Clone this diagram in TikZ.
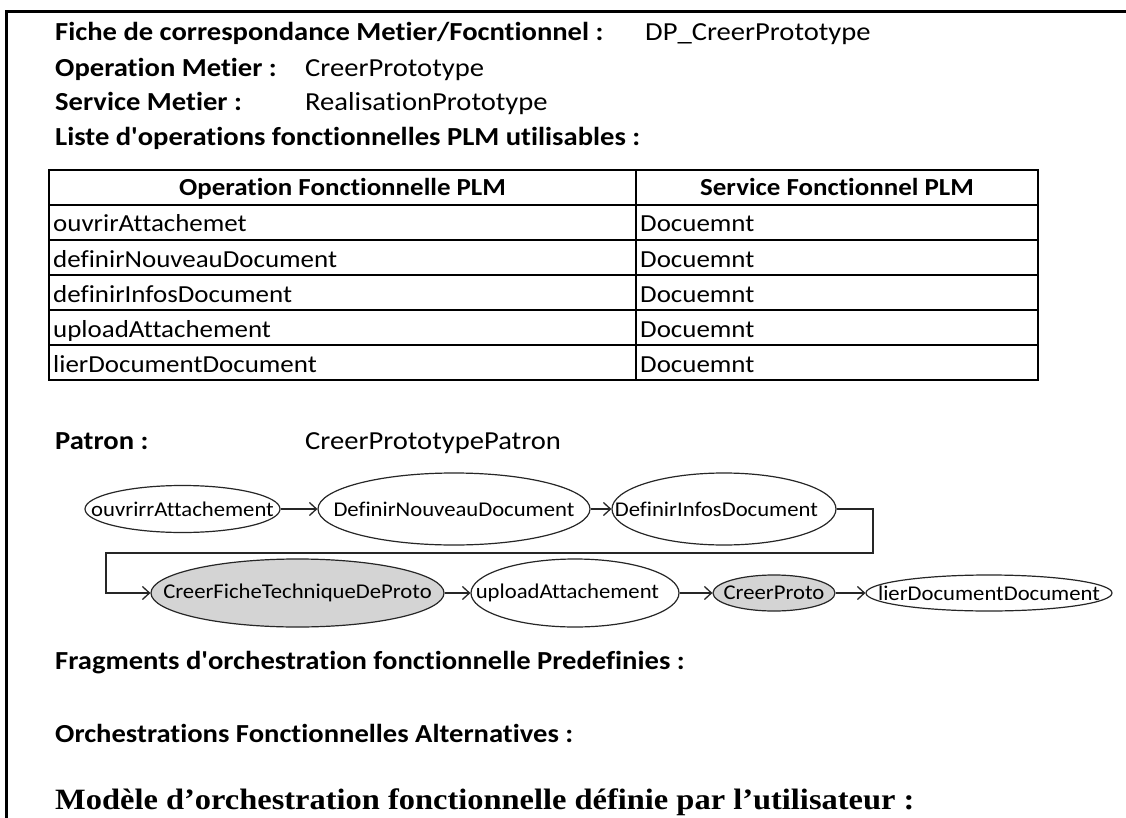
\documentclass[tikz,border=0pt]{standalone}
\usepackage{fontspec}
\usepackage{graphicx}
\setmainfont{Carlito}[Ligatures=NoCommon]
\newfontfamily\timesfont{Liberation Serif}
\usetikzlibrary{shapes.geometric,arrows.meta}
\newcommand{\hx}[1]{\scalebox{1.1}[1]{#1}}
\newcommand{\ex}[1]{\makebox[0pt]{\scalebox{1.08}[1]{#1}}}
\newcommand{\apos}{\textquotesingle}
\begin{document}
\begin{tikzpicture}[x=1pt,y=-1pt,
  lbl/.style={anchor=base west,inner sep=0pt,font=\fontsize{26}{30}\selectfont\bfseries},
  val/.style={anchor=base west,inner sep=0pt,font=\fontsize{26}{30}\selectfont},
  cell/.style={anchor=base west,inner sep=0pt,font=\fontsize{24.5}{28}\selectfont},
  hcell/.style={anchor=base,inner sep=0pt,font=\fontsize{24.5}{28}\selectfont\bfseries},
  op/.style={ellipse,draw=black!85,line width=1.2pt,inner sep=0pt,font=\fontsize{21}{24}\selectfont,fill=white},
  gop/.style={op,fill=black!17},
  flow/.style={-{Straight Barb[length=7pt,width=13pt,line width=1.3pt]},line width=1.3pt,draw=black!85},
  grid line/.style={line width=1.5pt}
]
\useasboundingbox (0,0) rectangle (1126,818);
\fill[white] (0,0) rectangle (1126,818);
\draw[line width=3pt] (1126,12) -- (6,12) -- (6,818);

% header lines
\node[lbl] (fiche) at (55,41) {\hx{Fiche de correspondance Metier/Focntionnel :}};
\node[val] (dp) at (645,41) {\hx{DP\_CreerPrototype}};
\node[lbl] (opm) at (55,77) {\hx{Operation Metier :}};
\node[val] (opv) at (305,77) {\hx{CreerPrototype}};
\node[lbl] (svm) at (55,111) {\hx{Service Metier :}};
\node[val] (svv) at (305,111) {\hx{RealisationPrototype}};
\node[lbl] (liste) at (55,146) {\hx{Liste d\apos operations fonctionnelles PLM utilisables :}};

% table
\draw[line width=1.6pt] (49,170) rectangle (1038,380);
\foreach \yy in {205,240,275,310,345} \draw[grid line] (49,\yy) -- (1038,\yy);
\draw[grid line] (636,170) -- (636,380);
\node[hcell] (h1) at (342.5,196) {\hx{Operation Fonctionnelle PLM}};
\node[hcell] (h2) at (837,196) {\hx{Service Fonctionnel PLM}};
\node[cell] (r1a) at (53,232) {\hx{ouvrirAttachemet}};
\node[cell] (r1b) at (640,232) {\hx{Docuemnt}};
\node[cell] (r2a) at (53,267) {\hx{definirNouveauDocument}};
\node[cell] (r2b) at (640,267) {\hx{Docuemnt}};
\node[cell] (r3a) at (53,302) {\hx{definirInfosDocument}};
\node[cell] (r3b) at (640,302) {\hx{Docuemnt}};
\node[cell] (r4a) at (53,337) {\hx{uploadAttachement}};
\node[cell] (r4b) at (640,337) {\hx{Docuemnt}};
\node[cell] (r5a) at (53,372) {\hx{lierDocumentDocument}};
\node[cell] (r5b) at (640,372) {\hx{Docuemnt}};

% patron
\node[lbl] (patron) at (55,449) {\hx{Patron :}};
\node[val] (patronv) at (305,449) {\hx{CreerPrototypePatron}};

% pattern ellipses
\node[op,minimum width=195pt,minimum height=47pt] (A) at (182.5,509) {\ex{ouvrirrAttachement}};
\node[op,minimum width=272pt,minimum height=72pt] (B) at (454,509) {\ex{DefinirNouveauDocument}};
\node[op,minimum width=224pt,minimum height=72pt] (C) at (724,509) {\ex{DefinirInfosDocument\hspace{14pt}}};
\node[gop,minimum width=293pt,minimum height=68pt] (D) at (297.5,593) {\ex{CreerFicheTechniqueDeProto}};
\node[op,minimum width=208pt,minimum height=68pt] (E) at (575,593) {\ex{uploadAttachement\hspace{14pt}}};
\node[gop,minimum width=122pt,minimum height=36pt] (F) at (774,593) {\ex{CreerProto}};
\node[op,minimum width=246pt,minimum height=36pt] (G) at (989,593) {\ex{lierDocumentDocument}};

\coordinate (k1) at (873,553);
\coordinate (k2) at (106,553);
\draw[flow] (A) -- (B);
\draw[flow] (B) -- (C);
\draw[flow] (C.east) -| (k1) -- (k2) |- (D.west);
\draw[flow] (D) -- (E);
\draw[flow] (E) -- (F);
\draw[flow] (F) -- (G);

% bottom sections
\node[lbl] (frag) at (55,669) {\hx{Fragments d\apos orchestration fonctionnelle Predefinies :}};
\node[lbl] (alt) at (55,742) {\hx{Orchestrations Fonctionnelles Alternatives :}};
\node[lbl,font=\timesfont\fontsize{29.5}{33}\selectfont\bfseries] (mod) at (55,809) {\hx{Modèle d’orchestration fonctionnelle définie par l’utilisateur :}};
\end{tikzpicture}
\end{document}
